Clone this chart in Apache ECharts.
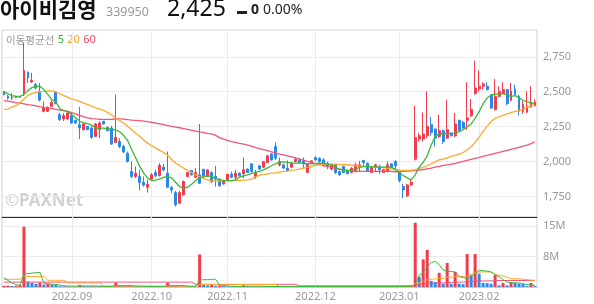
<!DOCTYPE html>
<html><head><meta charset="utf-8">
<script src="https://cdn.jsdelivr.net/npm/echarts@6/dist/echarts.min.js"></script>
<style>html,body{margin:0;padding:0;background:#fff}#c{width:594px;height:304px}</style>
</head><body><div id="c"></div>
<script>
// trading days per month
const aug22 = [8,9,10,11,12,16,17,18,19,22,23,24,25,26,29,30,31];
const sep22 = [1,2,5,6,7,8,13,14,15,16,19,20,21,22,23,26,27,28,29,30];
const oct22 = [4,5,6,7,11,12,13,14,17,18,19,20,21,24,25,26,27,28,31];
const nov22 = [1,2,3,4,7,8,9,10,11,14,15,16,17,18,21,22,23,24,25,28,29,30];
const dec22 = [1,2,5,6,7,8,9,12,13,14,15,16,19,20,21,22,23,26,27,28,29];
const jan23 = [2,3,4,5,6,9,10,11,12,13,16,17,18,19,20,25,26,27,30,31];
const feb23 = [1,2,3,6,7,8,9,10,13,14,15,16,17,20,21];
const monthLabels = ['2022.09','2022.10','2022.11','2022.12','2023.01','2023.02'];
const priceTicks = [1750,2000,2250,2500,2750];
const volTicks = [7.5,15];

const open = [2501,2467,2455,2462,2463,2491,2640,2570,2551,2503, 2360,2360,2395,2498,2336,2305,2305,2329,2295,2264, 2228,2252,2240,2180,2228,2288,2245,2240,2137,2144, 2108,2060,1929,1893,1893,1850,1816,1874,1921,1900, 1960,1917,1814,1778,1702,1761,1893,1936,1888,1905, 1945,1893,1921,1893,1874,1840,1869,1910,1888,1917, 1912,1946,1984,1893,1969,1960,1993,2055,2108,1977, 1977,1953,1960,2000,2012,2005,1922,1988,2029,2024, 2012,1988,1946,1977,1929,1965,1936,1922,1929,1960, 2008,1988,1922,1965,1965,1922,1929,1984,2000,1922, 1821,1754,1833,2017,2161,2161,2185,2264,2233,2180, 2221,2168,2204,2185,2295,2281,2295,2329,2487,2520, 2539,2539,2479,2372,2467,2487,2515,2439,2520,2467, 2360,2353,2391,2400];
const close = [2479,2453,2462,2458,2460,2652,2599,2582,2527,2440, 2388,2388,2424,2415,2300,2329,2348,2276,2276,2240, 2269,2228,2173,2269,2276,2269,2221,2125,2173,2108, 2068,2000,1893,1917,1850,1831,1838,1905,1898,1972, 1940,1816,1797,1690,1778,1857,1921,1905,1921,1845, 1893,1940,1857,1874,1826,1864,1910,1888,1917,1898, 1941,1922,1929,1917,1946,2000,2041,2012,2024,2000, 1953,1936,1988,2017,1993,1984,1984,2005,2012,2000, 1977,1965,1977,1922,1905,1922,1912,1953,1977,1977, 1993,1929,1960,1977,1941,1941,1977,1960,1969,1864, 1797,1833,1852,2173,2185,2197,2252,2209,2168,2221, 2144,2228,2185,2269,2223,2240,2312,2372,2527,2539, 2556,2515,2383,2467,2503,2515,2415,2503,2479,2360, 2408,2396,2425,2425];
const low = [2475,2443,2440,2455,2455,2470,2563,2563,2515,2430, 2353,2355,2390,2410,2290,2290,2300,2269,2270,2161, 2223,2225,2163,2175,2168,2265,2218,2120,2132,2096, 2060,1993,1881,1881,1793,1821,1778,1869,1888,1893, 1929,1809,1773,1678,1697,1756,1888,1900,1881,1840, 1881,1890,1845,1821,1820,1835,1865,1880,1870,1893, 1881,1918,1922,1876,1941,1953,1989,2007,2012,1965, 1948,1929,1953,1993,1989,1953,1917,1984,2005,1993, 1965,1946,1936,1912,1898,1917,1910,1917,1922,1929, 1965,1925,1920,1929,1912,1918,1922,1955,1946,1850, 1738,1749,1826,2008,2144,2144,2168,2185,2108,2168, 2125,2161,2180,2175,2216,2235,2228,2319,2479,2503, 2515,2510,2378,2367,2460,2479,2403,2432,2475,2331, 2343,2348,2384,2395];
const high = [2505,2477,2490,2465,2465,2850,2645,2635,2563,2563, 2431,2395,2438,2503,2348,2348,2350,2348,2300,2391, 2276,2255,2252,2276,2288,2292,2250,2257,2479,2168, 2120,2072,2000,1965,1941,1893,1869,1917,1941,1989, 1984,2072,1826,1790,1790,1864,1925,1941,1953,2269, 1945,1945,1929,1969,1880,1870,1910,1929,1941,1922, 2029,1950,1984,1941,1976,2005,2048,2060,2137,2029, 1980,2008,1998,2029,2024,2029,1989,2008,2036,2029, 2024,2000,1984,1981,1936,1970,1940,1960,1993,2005, 2012,1993,1965,1984,1977,1945,2001,1989,2012,1929, 1840,1840,1869,2400,2204,2352,2503,2319,2235,2336, 2228,2443,2209,2348,2300,2290,2568,2448,2723,2652, 2568,2568,2479,2592,2539,2568,2515,2563,2551,2479, 2432,2503,2539,2445];

const ma5 = [2501,2484,2472,2467,2467,2479,2508,2530,2539,2539, 2515,2479,2443,2427,2379,2365,2357,2336,2312,2288, 2276,2271,2259,2240,2240,2240,2233,2233,2226,2214, 2185,2149,2085,2025,1965,1917,1881,1864,1867,1876, 1886,1893,1883,1850,1821,1809,1816,1838,1864,1883, 1893,1898,1893,1879,1869,1864,1864,1864,1869,1888, 1898,1905,1915,1922,1929,1941,1955,1970,1984,1996, 1998,1994,1989,1989,1991,1986,1984,1984,1986,1989, 1986,1984,1977,1960,1946,1939,1936,1939,1943,1958, 1963,1965,1963,1960,1960,1960,1960,1958,1946,1922, 1900,1883,1869,1905,1960,1995,2041,2118,2180,2199, 2199,2199,2202,2204,2214,2228,2247,2269,2309,2357, 2415,2455,2475,2482,2484,2487,2477,2467,2472,2458, 2439,2427,2420,2415];
const ma20 = [2372,2376,2391,2400,2419,2448,2474,2487,2496,2501, 2503,2506,2506,2499,2484,2472,2460,2448,2439,2431, 2419,2408,2396,2384,2376,2367,2350,2333,2314,2293, 2274,2252,2226,2202,2180,2154,2132,2113,2096,2080, 2065,2046,2015,1989,1972,1953,1936,1922,1905,1891, 1879,1869,1862,1860,1862,1864,1864,1864,1864,1864, 1867,1869,1874,1888,1903,1907,1912,1917,1919,1924, 1929,1931,1939,1941,1946,1953,1958,1965,1972,1977, 1979,1982,1982,1982,1979,1977,1977,1974,1970,1967, 1965,1965,1963,1960,1958,1955,1953,1948,1943,1939, 1936,1936,1939,1941,1951,1958,1970,1984,1998,2013, 2017,2027,2037,2044,2053,2065,2085,2104,2137,2175, 2216,2254,2286,2309,2321,2331,2341,2350,2360,2367, 2376,2388,2400,2412];
const ma60 = [2436,2432,2427,2422,2418,2413,2408,2404,2399,2393, 2388,2384,2379,2374,2369,2364,2360,2350,2340,2330, 2320,2313,2308,2305,2303,2302,2302,2303,2305,2305, 2304,2300,2297,2295,2293,2290,2286,2281,2276,2270, 2264,2258,2252,2247,2242,2236,2230,2224,2218,2212, 2207,2202,2198,2187,2171,2161,2151,2142,2137,2130, 2125,2118,2110,2100,2092,2085,2078,2070,2062,2054, 2047,2040,2033,2026,2018,2010,2001,1993,1986,1979, 1970,1965,1958,1951,1946,1941,1936,1934,1931,1929, 1929,1929,1929,1929,1929,1929,1929,1929,1927,1927, 1929,1931,1934,1936,1939,1943,1948,1953,1960,1965, 1972,1977,1982,1986,1994,2001,2008,2015,2022,2029, 2037,2044,2051,2058,2065,2073,2080,2087,2094,2101, 2111,2118,2128,2142];

// volume in millions of shares
const vol = [0.3,0.35,0.25,0.3,0.5,14.8,1.3,1.0,0.8,1.1, 0.6,0.8,0.6,0.5,0.2,0.15,0.15,0.1,0.12,0.5, 0.2,0.15,0.2,0.15,0.2,0.1,0.15,0.1,1.1,0.3, 0.2,0.25,0.2,0.15,0.2,0.15,0.1,0.15,0.1,0.12, 0.1,1.1,0.2,0.25,0.15,0.2,0.1,0.15,0.1,8.0, 0.6,0.4,0.5,0.3,0.35,0.2,0.15,0.1,0.12,0.1, 0.4,0.2,0.15,0.2,0.1,0.15,0.12,0.1,0.15,0.1, 0.1,0.12,0.1,0.15,0.1,0.1,0.12,0.1,0.1,0.12, 0.1,0.1,0.12,0.1,0.1,0.12,0.1,0.1,0.1,0.12, 0.1,0.1,0.12,0.1,0.1,0.1,0.12,0.1,0.1,0.15, 0.2,0.25,0.3,15.8,2.5,6.8,9.1,1.5,1.2,3.5, 0.8,5.9,0.8,3.7,0.8,0.7,8.1,2.9,8.1,3.3, 1.0,0.95,0.8,2.9,0.4,1.0,0.4,1.2,1.0,0.8, 0.7,0.2,1.0,0.2];
const vma5 = [2.3,1.6,1.0,0.6,0.4,3.2,3.3,3.4,3.5,3.6, 0.9,0.8,0.7,0.6,0.5,0.3,0.25,0.2,0.2,0.25, 0.25,0.25,0.25,0.25,0.2,0.18,0.15,0.15,0.35,0.35, 0.35,0.35,0.35,0.2,0.2,0.18,0.15,0.15,0.12,0.12, 0.12,0.35,0.35,0.35,0.35,0.35,0.2,0.15,0.15,1.7, 1.8,1.8,1.9,1.9,0.45,0.35,0.3,0.2,0.15,0.12, 0.2,0.2,0.2,0.2,0.2,0.15,0.15,0.12,0.12,0.12, 0.12,0.12,0.12,0.12,0.12,0.12,0.12,0.12,0.12,0.12, 0.11,0.11,0.11,0.11,0.11,0.11,0.11,0.11,0.11,0.11, 0.11,0.11,0.11,0.11,0.11,0.11,0.11,0.11,0.11,0.12, 0.15,0.18,0.2,0.5,2.9,3.5,5.0,6.0,6.3,5.5, 4.2,3.9,3.8,3.7,2.6,2.3,2.1,2.6,3.3,4.1, 4.0,3.9,3.7,3.0,2.5,1.8,1.2,1.1,1.0,1.0, 0.8,0.6,0.5,0.4];
const vma20 = [1.9,1.9,1.9,1.9,1.9,2.6,2.6,2.6,2.6,2.6, 2.6,1.65,1.65,1.65,1.65,1.65,1.0,1.0,1.0,1.0, 1.0,1.0,1.0,1.0,1.0,0.22,0.22,0.22,0.22,0.22, 0.22,0.22,0.22,0.22,0.22,0.22,0.22,0.22,0.22,0.22, 0.22,0.22,0.22,0.22,0.22,0.22,0.22,0.22,0.22,0.6, 0.6,0.6,0.6,0.6,0.6,0.6,0.6,0.6,0.6,0.6, 0.6,0.6,0.6,0.6,0.6,0.6,0.6,0.6,0.6,0.15, 0.15,0.15,0.15,0.15,0.15,0.15,0.15,0.15,0.15,0.15, 0.15,0.15,0.15,0.15,0.15,0.15,0.15,0.15,0.15,0.15, 0.15,0.15,0.15,0.15,0.15,0.15,0.15,0.15,0.15,0.15, 0.15,0.15,0.15,0.9,1.0,1.4,1.8,1.9,2.0,2.1, 2.1,2.4,2.4,2.6,2.6,2.6,2.7,3.1,3.5,3.7, 3.7,3.7,3.7,3.1,2.9,2.7,2.4,2.1,2.0,2.0, 1.9,1.8,1.7,1.65];
const vma60 = [1.2,1.2,1.2,1.2,1.2,1.2,1.2,1.2,1.2,1.2, 1.2,1.2,1.2,1.2,1.2,1.2,1.2,1.2,1.2,1.2, 1.2,1.2,1.2,1.2,1.2,1.2,1.2,1.2,1.2,1.2, 1.2,1.2,1.2,1.2,1.2,1.2,1.2,1.2,1.2,1.2, 1.2,1.2,1.2,1.2,1.2,1.2,1.2,1.2,0.65,0.65, 0.65,0.65,0.65,0.65,0.65,0.65,0.65,0.65,0.65,0.65, 0.65,0.65,0.65,0.65,0.65,0.65,0.65,0.65,0.65,0.65, 0.65,0.65,0.65,0.65,0.3,0.3,0.3,0.3,0.3,0.3, 0.3,0.3,0.3,0.3,0.3,0.3,0.3,0.3,0.3,0.3, 0.3,0.3,0.3,0.3,0.3,0.3,0.3,0.3,0.3,0.3, 0.3,0.3,0.3,0.6,0.65,0.75,0.9,0.95,0.95,1.0, 1.0,1.1,1.1,1.2,1.2,1.2,1.3,1.3,1.5,1.5, 1.5,1.5,1.5,1.6,1.6,1.6,1.6,1.6,1.6,1.6, 1.6,1.6,1.6,1.6];

const UP = '#f33c4b', DOWN = '#2a89e8';
const C5 = '#3cb83c', C20 = '#ffa82e', C60 = '#f2547a';

const pad = n => (n < 10 ? '0' : '') + n;
const dates = [].concat(
  aug22.map(d => '2022.08.' + pad(d)), sep22.map(d => '2022.09.' + pad(d)),
  oct22.map(d => '2022.10.' + pad(d)), nov22.map(d => '2022.11.' + pad(d)),
  dec22.map(d => '2022.12.' + pad(d)), jan23.map(d => '2023.01.' + pad(d)),
  feb23.map(d => '2023.02.' + pad(d)));
const candle = dates.map((d, i) => [open[i], close[i], low[i], high[i]]);
const volData = vol.map((v, i) => ({ value: v, itemStyle: { color: (i === 0 || v >= vol[i - 1]) ? UP : DOWN } }));
const monthStart = monthLabels.map(m => dates.find(d => d.startsWith(m)));
const vLines = monthStart.map(d => ({ xAxis: d }));
const gridMark = { silent: true, symbol: 'none', z: 1, label: { show: false }, lineStyle: { color: '#ececec', type: 'solid', width: 1 }, data: vLines, animation: false };
const fmtNum = v => String(v).replace(/\B(?=(\d{3})+(?!\d))/g, ',');

const chart = echarts.init(document.getElementById('c'));
chart.setOption({
  animation: false,
  grid: [
    { left: 2, top: 30, width: 535, height: 187, show: true, borderColor: '#d0d0d0', borderWidth: 1 },
    { left: 2, top: 217, width: 535, height: 70, show: true, borderColor: '#d0d0d0', borderWidth: 1 }
  ],
  xAxis: [
    { type: 'category', gridIndex: 0, data: dates, boundaryGap: true,
      axisLine: { show: true, lineStyle: { color: '#333' } }, axisTick: { show: false },
      axisLabel: { show: false }, splitLine: { show: false } },
    { type: 'category', gridIndex: 1, data: dates, boundaryGap: true,
      axisLine: { show: true, lineStyle: { color: '#ccc' } }, axisTick: { show: false },
      axisLabel: { show: true, color: '#999', fontSize: 11, margin: 4, fontFamily: 'Noto Sans',
        interval: (i, v) => monthStart.includes(v), formatter: v => v.slice(0, 7) },
      splitLine: { show: false } }
  ],
  yAxis: [
    { type: 'value', gridIndex: 0, position: 'right', min: 1603, max: 2942, scale: true,
      axisLine: { show: false }, axisTick: { show: false, customValues: priceTicks },
      axisLabel: { customValues: priceTicks, color: '#999', fontSize: 11, margin: 6, fontFamily: 'Noto Sans', formatter: fmtNum },
      splitLine: { show: true, lineStyle: { color: '#ececec' } } },
    { type: 'value', gridIndex: 1, position: 'right', min: 0, max: 17.2,
      axisLine: { show: false }, axisTick: { show: false, customValues: volTicks },
      axisLabel: { customValues: volTicks, color: '#999', fontSize: 11, margin: 6, fontFamily: 'Noto Sans', formatter: v => Math.round(v) + 'M' },
      splitLine: { show: true, lineStyle: { color: '#ececec' } } }
  ],
  series: [
    { type: 'line', xAxisIndex: 0, yAxisIndex: 0, data: [], markLine: gridMark, silent: true },
    { type: 'line', xAxisIndex: 1, yAxisIndex: 1, data: [], markLine: gridMark, silent: true },
    { type: 'candlestick', xAxisIndex: 0, yAxisIndex: 0, data: candle, barWidth: 2.4,
      itemStyle: { color: UP, color0: DOWN, borderColor: UP, borderColor0: DOWN, borderWidth: 1 } },
    { type: 'line', xAxisIndex: 0, yAxisIndex: 0, data: ma60, showSymbol: false, lineStyle: { color: C60, width: 1.3 } },
    { type: 'line', xAxisIndex: 0, yAxisIndex: 0, data: ma20, showSymbol: false, lineStyle: { color: C20, width: 1.3 } },
    { type: 'line', xAxisIndex: 0, yAxisIndex: 0, data: ma5, showSymbol: false, lineStyle: { color: C5, width: 1.3 } },
    { type: 'bar', xAxisIndex: 1, yAxisIndex: 1, data: volData, barWidth: 3 },
    { type: 'line', xAxisIndex: 1, yAxisIndex: 1, data: vma60, showSymbol: false, lineStyle: { color: C60, width: 1 } },
    { type: 'line', xAxisIndex: 1, yAxisIndex: 1, data: vma20, showSymbol: false, lineStyle: { color: C20, width: 1 } },
    { type: 'line', xAxisIndex: 1, yAxisIndex: 1, data: vma5, showSymbol: false, lineStyle: { color: C5, width: 1 } }
  ],
  graphic: [
    { type: 'text', left: 0, top: -1, style: { text: '아이비김영', font: 'bold 21px "Noto Sans CJK KR"', fill: '#111' } },
    { type: 'text', left: 106, top: 6, style: { text: '339950', font: '12.5px "Noto Sans"', fill: '#999' } },
    { type: 'text', left: 167, top: -2, style: { text: '2,425', font: '23px "Noto Sans"', fill: '#111' } },
    { type: 'rect', shape: { x: 237, y: 11, width: 10, height: 3 }, style: { fill: '#222' } },
    { type: 'text', left: 251, top: 3, style: { text: '0', font: 'bold 14px "Noto Sans"', fill: '#222' } },
    { type: 'text', left: 263, top: 3, style: { text: '0.00%', font: '14px "Noto Sans"', fill: '#222' } },
    { type: 'text', left: 6, top: 34, style: { text: '{a|이동평균선} {g|5} {o|20} {r|60}',
      rich: { a: { font: '10.5px "Noto Sans CJK KR"', fill: '#999' }, g: { font: '11px "Noto Sans"', fill: '#2db52d' },
              o: { font: '11px "Noto Sans"', fill: '#ffa82e' }, r: { font: '11px "Noto Sans"', fill: '#f0466e' } } } },
    { type: 'text', left: 5, top: 193, style: { text: '©', font: '17px "Noto Sans"', fill: '#d2d2d2' } },
    { type: 'text', left: 19, top: 193, style: { text: 'PAXNet', font: 'bold 17px "Noto Sans"', fill: '#d2d2d2' } }
  ]
});
</script></body></html>
